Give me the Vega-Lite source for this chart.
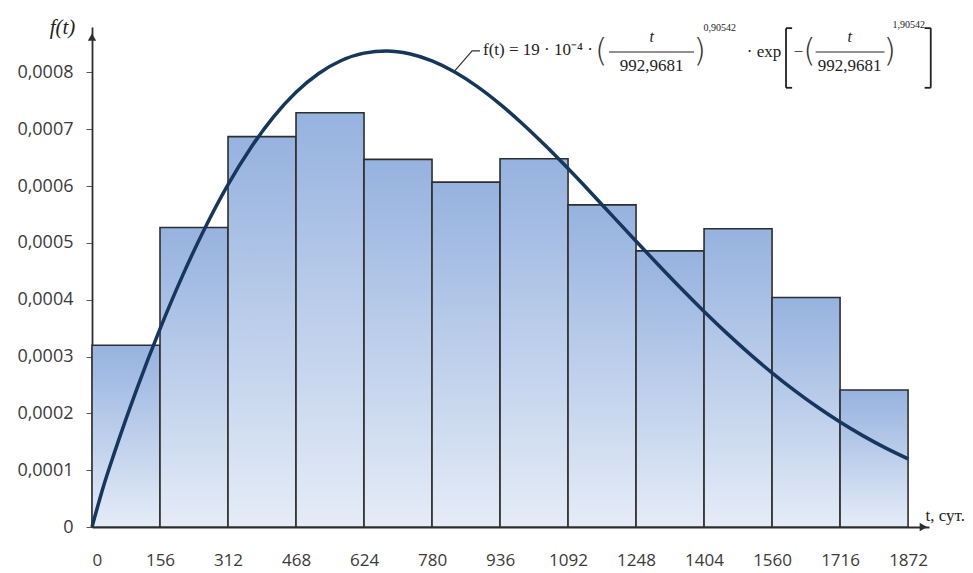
{
  "$schema": "https://vega.github.io/schema/vega-lite/v6.json",
  "autosize": {"type": "none"},
  "padding": {"left": 92, "top": 27, "right": 44, "bottom": 46},
  "width": 837,
  "height": 500,
  "background": "white",
  "config": {"view": {"stroke": null}},
  "datasets": {
    "bars": [
      {"start": 0, "end": 156, "f": 0.00032},
      {"start": 156, "end": 312, "f": 0.000527},
      {"start": 312, "end": 468, "f": 0.000687},
      {"start": 468, "end": 624, "f": 0.000729},
      {"start": 624, "end": 780, "f": 0.000647},
      {"start": 780, "end": 936, "f": 0.000607},
      {"start": 936, "end": 1092, "f": 0.000648},
      {"start": 1092, "end": 1248, "f": 0.000567},
      {"start": 1248, "end": 1404, "f": 0.000486},
      {"start": 1404, "end": 1560, "f": 0.000525},
      {"start": 1560, "end": 1716, "f": 0.000404},
      {"start": 1716, "end": 1872, "f": 0.000241}
    ],
    "curve": [
      {"t": 0, "f": 0}, {"t": 26, "f": 0.0000709}, {"t": 52, "f": 0.0001322},
      {"t": 104, "f": 0.0002454}, {"t": 156, "f": 0.0003487}, {"t": 208, "f": 0.0004429},
      {"t": 260, "f": 0.0005276}, {"t": 312, "f": 0.0006026}, {"t": 364, "f": 0.0006672},
      {"t": 416, "f": 0.0007214}, {"t": 468, "f": 0.000765}, {"t": 520, "f": 0.0007981},
      {"t": 572, "f": 0.000821}, {"t": 624, "f": 0.000834}, {"t": 676, "f": 0.0008378},
      {"t": 728, "f": 0.0008329}, {"t": 780, "f": 0.0008203}, {"t": 832, "f": 0.0008007},
      {"t": 884, "f": 0.0007751}, {"t": 936, "f": 0.0007443}, {"t": 988, "f": 0.0007094},
      {"t": 1040, "f": 0.0006713}, {"t": 1092, "f": 0.0006308}, {"t": 1144, "f": 0.0005888},
      {"t": 1196, "f": 0.0005459}, {"t": 1248, "f": 0.000503}, {"t": 1300, "f": 0.0004606},
      {"t": 1352, "f": 0.0004192}, {"t": 1404, "f": 0.0003793}, {"t": 1456, "f": 0.0003412},
      {"t": 1508, "f": 0.0003052}, {"t": 1560, "f": 0.0002714}, {"t": 1612, "f": 0.00024},
      {"t": 1664, "f": 0.0002111}, {"t": 1716, "f": 0.0001847}, {"t": 1768, "f": 0.0001608},
      {"t": 1820, "f": 0.0001392}, {"t": 1872, "f": 0.0001199}
    ],
    "leader": [
      {"t": 830, "f": 0.000801},
      {"t": 872, "f": 0.000838},
      {"t": 890, "f": 0.000838}
    ],
    "textLeft": [
      {"label": "f(t) = 19 · 10⁻⁴ ·", "t": 897, "f": 0.00084},
      {"label": "· exp", "t": 1502, "f": 0.000836}
    ],
    "textCenter": [
      {"label": "992,9681", "t": 1284, "f": 0.000812},
      {"label": "−", "t": 1621, "f": 0.000836},
      {"label": "992,9681", "t": 1738, "f": 0.000812}
    ],
    "textItalic": [
      {"label": "t", "t": 1284, "f": 0.000862},
      {"label": "t", "t": 1738, "f": 0.000862}
    ],
    "parens": [
      {"label": "(", "t": 1168, "f": 0.000838},
      {"label": ")", "t": 1394, "f": 0.000838},
      {"label": "(", "t": 1646, "f": 0.000838},
      {"label": ")", "t": 1830, "f": 0.000838}
    ],
    "bracketLines": [
      {"t": 1592, "t2": 1592, "f": 0.000878, "f2": 0.000773},
      {"t": 1592, "t2": 1606, "f": 0.000878, "f2": 0.000878},
      {"t": 1592, "t2": 1606, "f": 0.000773, "f2": 0.000773},
      {"t": 1924, "t2": 1924, "f": 0.000878, "f2": 0.000773},
      {"t": 1910, "t2": 1924, "f": 0.000878, "f2": 0.000878},
      {"t": 1910, "t2": 1924, "f": 0.000773, "f2": 0.000773}
    ],
    "expo": [
      {"label": "0,90542", "t": 1403, "f": 0.000879},
      {"label": "1,90542", "t": 1836, "f": 0.000883}
    ],
    "fracLines": [
      {"t": 1186, "t2": 1381, "f": 0.000836},
      {"t": 1660, "t2": 1818, "f": 0.000836}
    ]
  },
  "layer": [
    {
      "data": {"name": "bars"},
      "mark": {
        "type": "rect",
        "fill": {
          "gradient": "linear", "x1": 0, "y1": 0, "x2": 0, "y2": 1,
          "stops": [
            {"offset": 0, "color": "#96b2df"},
            {"offset": 1, "color": "#e5ecf7"}
          ]
        },
        "stroke": "#2e2e2e",
        "strokeWidth": 1.6
      },
      "encoding": {
        "x": {
          "field": "start", "type": "quantitative",
          "scale": {"domain": [0, 1920], "nice": false, "zero": false},
          "axis": {
            "values": [0, 156, 312, 468, 624, 780, 936, 1092, 1248, 1404, 1560, 1716, 1872],
            "labelExpr": "toString(datum.value)",
            "grid": false,
            "ticks": false,
            "labelPadding": 25,
            "labelFont": "Open Sans",
            "labelFontSize": 17,
            "labelColor": "#3a3a3a",
            "labelBaseline": "top",
            "labelOverlap": false,
            "domainColor": "#2e2e2e",
            "domainWidth": 1.8,
            "title": "t, сут.",
            "titleFont": "Liberation Serif",
            "titleFontSize": 17,
            "titleFontWeight": "normal",
            "titleColor": "#222222",
            "titleX": 833,
            "titleY": -12,
            "titleAlign": "left",
            "titleBaseline": "middle"
          }
        },
        "x2": {"field": "end"},
        "y": {
          "field": "f", "type": "quantitative",
          "scale": {"domain": [0, 0.00088], "nice": false},
          "axis": {
            "values": [0, 0.0001, 0.0002, 0.0003, 0.0004, 0.0005, 0.0006, 0.0007, 0.0008],
            "labelExpr": "datum.value == 0 ? '0' : replace(format(datum.value, '.4f'), '.', ',')",
            "grid": false,
            "tickSize": 6,
            "tickColor": "#555555",
            "labelPadding": 13,
            "labelFont": "Open Sans",
            "labelFontSize": 18,
            "labelColor": "#3a3a3a",
            "domainColor": "#2e2e2e",
            "domainWidth": 1.8,
            "title": "f(t)",
            "titleFont": "Liberation Serif",
            "titleFontStyle": "italic",
            "titleFontWeight": "normal",
            "titleFontSize": 21,
            "titleColor": "#222222",
            "titleAngle": 0,
            "titleX": -30,
            "titleY": 0,
            "titleAlign": "center",
            "titleBaseline": "middle"
          }
        },
        "y2": {"datum": 0}
      }
    },
    {
      "data": {"name": "curve"},
      "mark": {"type": "line", "color": "#17365d", "strokeWidth": 3.5, "interpolate": "monotone"},
      "encoding": {
        "x": {"field": "t", "type": "quantitative"},
        "y": {"field": "f", "type": "quantitative"}
      }
    },
    {
      "data": {"name": "leader"},
      "mark": {"type": "line", "color": "#333333", "strokeWidth": 1.2},
      "encoding": {
        "x": {"field": "t", "type": "quantitative"},
        "y": {"field": "f", "type": "quantitative"}
      }
    },
    {
      "data": {"name": "fracLines"},
      "mark": {"type": "rule", "color": "#222222", "strokeWidth": 1},
      "encoding": {
        "x": {"field": "t", "type": "quantitative"},
        "x2": {"field": "t2"},
        "y": {"field": "f", "type": "quantitative"}
      }
    },
    {
      "data": {"name": "bracketLines"},
      "mark": {"type": "rule", "color": "#222222", "strokeWidth": 1.8},
      "encoding": {
        "x": {"field": "t", "type": "quantitative"},
        "x2": {"field": "t2"},
        "y": {"field": "f", "type": "quantitative"},
        "y2": {"field": "f2"}
      }
    },
    {
      "data": {"name": "textLeft"},
      "mark": {"type": "text", "font": "Liberation Serif", "fontSize": 17, "align": "left", "baseline": "middle", "color": "#222222"},
      "encoding": {
        "x": {"field": "t", "type": "quantitative"},
        "y": {"field": "f", "type": "quantitative"},
        "text": {"field": "label"}
      }
    },
    {
      "data": {"name": "textCenter"},
      "mark": {"type": "text", "font": "Liberation Serif", "fontSize": 17, "align": "center", "baseline": "middle", "color": "#222222"},
      "encoding": {
        "x": {"field": "t", "type": "quantitative"},
        "y": {"field": "f", "type": "quantitative"},
        "text": {"field": "label"}
      }
    },
    {
      "data": {"name": "textItalic"},
      "mark": {"type": "text", "font": "Liberation Serif", "fontStyle": "italic", "fontSize": 16, "align": "center", "baseline": "middle", "color": "#222222"},
      "encoding": {
        "x": {"field": "t", "type": "quantitative"},
        "y": {"field": "f", "type": "quantitative"},
        "text": {"field": "label"}
      }
    },
    {
      "data": {"name": "parens"},
      "mark": {"type": "text", "font": "DejaVu Sans", "fontWeight": 200, "fontSize": 32, "align": "center", "baseline": "middle", "color": "#333333"},
      "encoding": {
        "x": {"field": "t", "type": "quantitative"},
        "y": {"field": "f", "type": "quantitative"},
        "text": {"field": "label"}
      }
    },
    {
      "data": {"name": "expo"},
      "mark": {"type": "text", "font": "Liberation Serif", "fontSize": 10, "align": "left", "baseline": "middle", "color": "#222222"},
      "encoding": {
        "x": {"field": "t", "type": "quantitative"},
        "y": {"field": "f", "type": "quantitative"},
        "text": {"field": "label"}
      }
    },
    {
      "data": {"values": [{}]},
      "mark": {"type": "point", "shape": "triangle-up", "filled": true, "color": "#2e2e2e", "size": 70, "opacity": 1},
      "encoding": {
        "x": {"datum": 0, "type": "quantitative"},
        "y": {"datum": 0.000862, "type": "quantitative"}
      }
    },
    {
      "data": {"values": [{}]},
      "mark": {"type": "point", "shape": "triangle-right", "filled": true, "color": "#2e2e2e", "size": 70, "opacity": 1},
      "encoding": {
        "x": {"datum": 1907, "type": "quantitative"},
        "y": {"datum": 0, "type": "quantitative"}
      }
    }
  ]
}
